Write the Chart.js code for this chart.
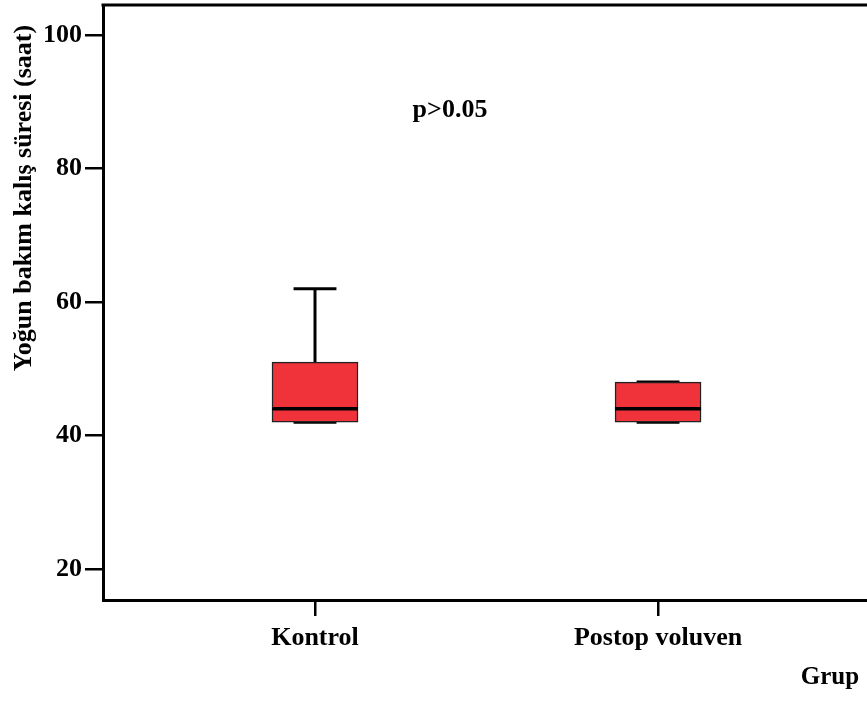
<!DOCTYPE html>
<html>
<head>
<meta charset="utf-8">
<script src="https://cdn.jsdelivr.net/npm/chart.js@4/dist/chart.umd.min.js"></script>
<style>
  html, body { margin: 0; padding: 0; background: #fff; overflow: hidden; }
  #wrap { width: 880px; height: 702px; }
</style>
</head>
<body>
<div id="wrap"><canvas id="grafico" width="880" height="702"></canvas></div>
<script>
const gruplar = ['Kontrol', 'Postop voluven'];
const altBiyik = [42, 42];
const q1 = [42, 42];
const medyan = [44, 44];
const q3 = [51, 48];
const ustBiyik = [62, 48];
const yTikler = [20, 40, 60, 80, 100];

const aile = '"Liberation Serif", "Times New Roman", serif';

// whiskers behind the boxes, medians on top of them
const kutuCizimi = {
    id: 'kutuCizimi',
    beforeDatasetsDraw(chart) {
        const { ctx, scales: { x, y } } = chart;
        ctx.save();
        ctx.strokeStyle = '#000';
        ctx.lineWidth = 3;
        gruplar.forEach((g, i) => {
            const cx = x.getPixelForValue(i);
            const yarim = (x.getPixelForValue(i + 0.0625) - cx);
            ctx.beginPath();
            ctx.moveTo(cx, y.getPixelForValue(q3[i]));
            ctx.lineTo(cx, y.getPixelForValue(ustBiyik[i]));
            ctx.moveTo(cx, y.getPixelForValue(q1[i]));
            ctx.lineTo(cx, y.getPixelForValue(altBiyik[i]));
            ctx.stroke();
            [ustBiyik[i], altBiyik[i]].forEach(v => {
                const py = y.getPixelForValue(v);
                ctx.beginPath();
                ctx.moveTo(cx - yarim, py);
                ctx.lineTo(cx + yarim, py);
                ctx.stroke();
            });
        });
        ctx.restore();
    },
    afterDatasetsDraw(chart) {
        const { ctx, scales: { y } } = chart;
        ctx.save();
        ctx.strokeStyle = '#000';
        ctx.lineWidth = 3.5;
        chart.getDatasetMeta(0).data.forEach((bar, i) => {
            const py = y.getPixelForValue(medyan[i]);
            ctx.beginPath();
            ctx.moveTo(bar.x - bar.width / 2, py);
            ctx.lineTo(bar.x + bar.width / 2, py);
            ctx.stroke();
        });
        ctx.restore();
    },
    afterDraw(chart) {
        const { ctx, chartArea } = chart;
        ctx.save();
        // top frame line
        ctx.strokeStyle = '#000';
        ctx.lineWidth = 3;
        ctx.beginPath();
        ctx.moveTo(chartArea.left - 1.5, chartArea.top);
        ctx.lineTo(chartArea.right, chartArea.top);
        ctx.stroke();

        ctx.fillStyle = '#000';
        ctx.font = 'bold 26px ' + aile;
        ctx.textAlign = 'center';
        ctx.textBaseline = 'middle';
        ctx.fillText('p>0.05', 450, 110);
        ctx.font = 'bold 25px ' + aile;
        ctx.fillText('Grup', 830, 678);

        ctx.font = 'bold 26px ' + aile;
        ctx.translate(24, 198);
        ctx.rotate(-Math.PI / 2);
        ctx.fillText('Yoğun bakım kalış süresi (saat)', 0, 0);
        ctx.restore();
    }
};

new Chart(document.getElementById('grafico'), {
    type: 'bar',
    data: {
        datasets: [{
            data: gruplar.map((g, i) => ({ x: i, y: [q1[i], q3[i]] })),
            backgroundColor: '#f0333b',
            borderColor: '#222',
            borderWidth: 1.5,
            borderSkipped: false,
            barThickness: 86
        }]
    },
    options: {
        responsive: false,
        animation: false,
        layout: { padding: { top: 5, left: 0, right: 0, bottom: 0 } },
        plugins: { legend: { display: false }, tooltip: { enabled: false } },
        scales: {
            x: {
                type: 'linear',
                offset: false,
                min: -0.618,
                max: 1.647,
                afterBuildTicks: s => { s.ticks = gruplar.map((g, i) => ({ value: i })); },
                afterFit: s => { s.height = 102; s.paddingLeft = 0; s.paddingRight = 0; },
                ticks: {
                    callback: v => gruplar[v],
                    font: { family: aile, size: 26, weight: 'bold' },
                    color: '#000',
                    padding: 7,
                    maxRotation: 0,
                    autoSkip: false
                },
                grid: { offset: false, drawOnChartArea: false, color: '#000', tickLength: 16, lineWidth: 2.5 },
                border: { color: '#000', width: 3 }
            },
            y: {
                min: 15.36,
                max: 104.49,
                afterBuildTicks: s => { s.ticks = yTikler.map(v => ({ value: v })); },
                afterFit: s => { s.width = 103; s.paddingTop = 0; s.paddingBottom = 0; },
                ticks: {
                    font: { family: aile, size: 26, weight: 'bold' },
                    color: '#000',
                    padding: 3
                },
                grid: { drawOnChartArea: false, color: '#000', tickLength: 18, lineWidth: 2.5 },
                border: { color: '#000', width: 3 }
            }
        }
    },
    plugins: [kutuCizimi]
});
</script>
</body>
</html>
